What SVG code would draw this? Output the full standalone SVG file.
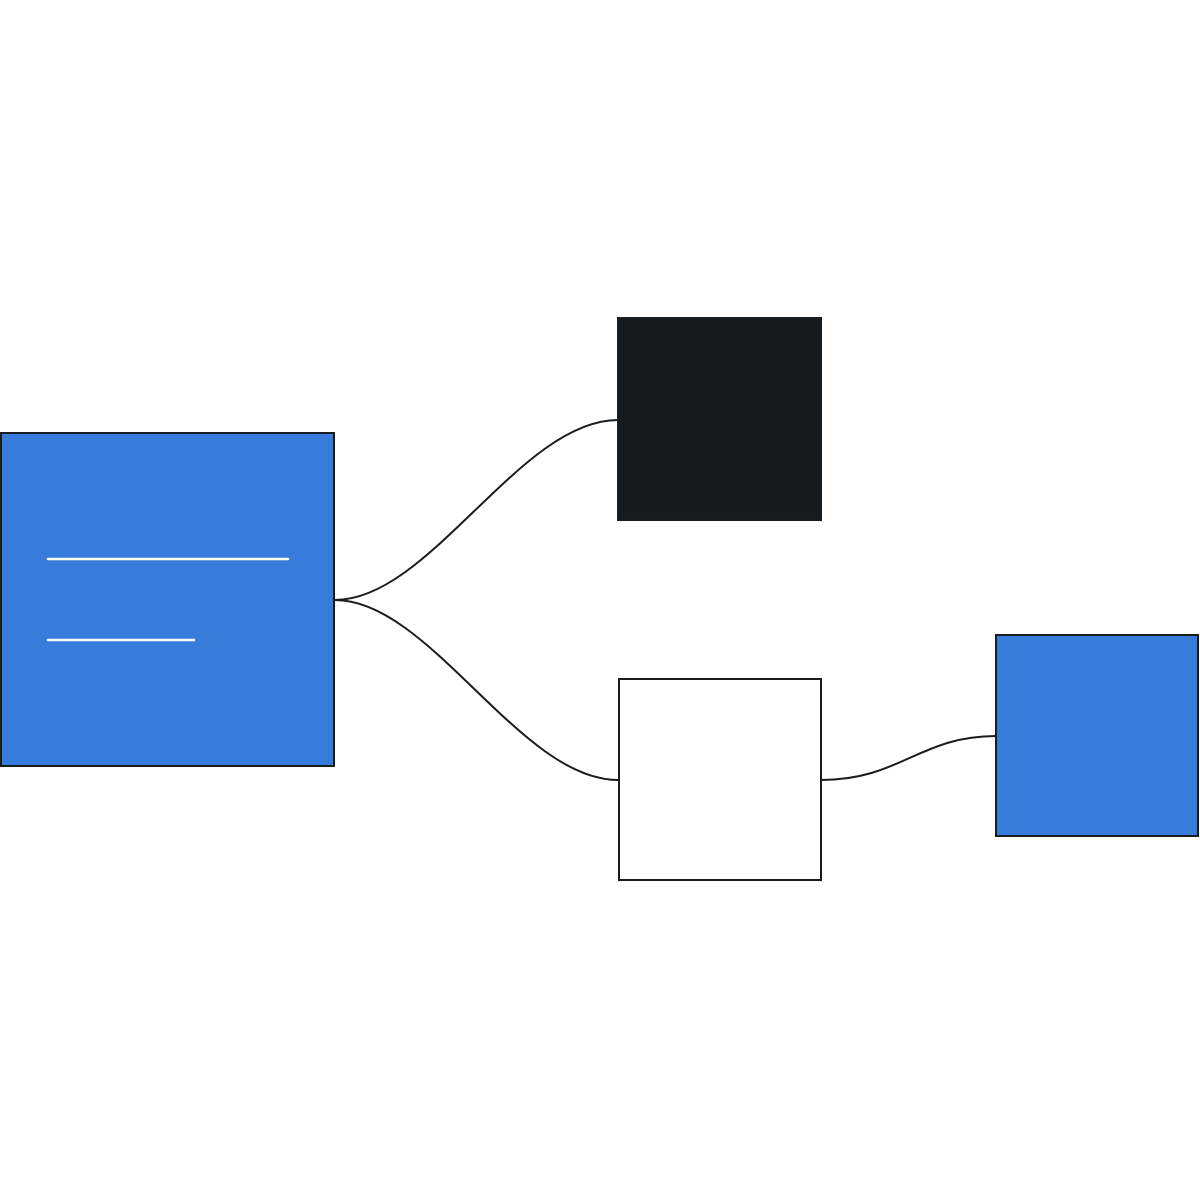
<svg xmlns="http://www.w3.org/2000/svg" width="1200" height="1200" viewBox="0 0 1200 1200">
<style>
.box{stroke:#1a1d20;stroke-width:2}
.blue{fill:#377cdb}
.dark{fill:#161a1d}
.white{fill:#ffffff}
.conn{fill:none;stroke:#1a1d20;stroke-width:2}
.txt{stroke:#ffffff;stroke-width:2.5;stroke-linecap:round}
</style>
<rect width="1200" height="1200" fill="#ffffff"/>
<g id="connectors">
<path class="conn" d="M335,600 C430,600 520,420 618,420"/>
<path class="conn" d="M335,600 C430,600 520,780 618,780"/>
<path class="conn" d="M821,780 C900,780 920,736 996,736"/>
</g>
<g id="node-main">
<rect class="box blue" x="1" y="433" width="333" height="333"/>
<line class="txt" x1="48" y1="559" x2="288" y2="559"/>
<line class="txt" x1="48" y1="640" x2="194" y2="640"/>
</g>
<g id="node-dark">
<rect class="box dark" x="618" y="318" width="203" height="202"/>
</g>
<g id="node-white">
<rect class="box white" x="619" y="679" width="202" height="201"/>
</g>
<g id="node-right">
<rect class="box blue" x="996" y="635" width="202" height="201"/>
</g>
</svg>
